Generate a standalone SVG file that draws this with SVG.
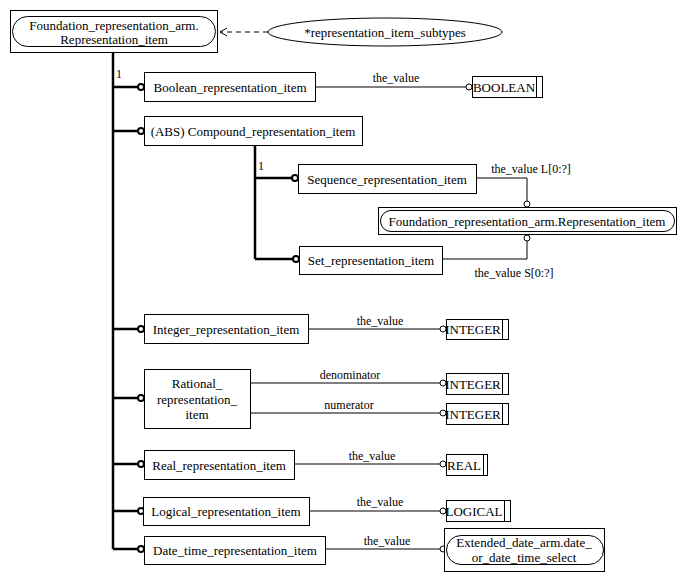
<svg xmlns="http://www.w3.org/2000/svg" width="686" height="581" viewBox="0 0 686 581">
<style>
text{font-family:"Liberation Serif","Times New Roman",serif;fill:#000}
.n{font-size:13px;text-anchor:middle;dominant-baseline:central}
.l{font-size:12px;text-anchor:middle;dominant-baseline:central}
.box{fill:#fff;stroke:#000;stroke-width:1}
.thin{fill:none;stroke:#000;stroke-width:1}
.thick{fill:none;stroke:#000;stroke-width:2.5}
.oc{fill:#fff;stroke:#000;stroke-width:1}
.tc{fill:#fff;stroke:#000;stroke-width:2}
</style>
<rect width="686" height="581" fill="#fff"/>
<g id="connectors">
  <line class="thin" x1="268" y1="32" x2="220" y2="32" stroke-dasharray="5,4"/>
  <polyline class="thin" points="227,28 220,32 227,36"/>
  <line class="thick" x1="113" y1="52" x2="113" y2="549"/>
  <line class="thick" x1="113" y1="87" x2="139" y2="87"/>
  <line class="thick" x1="113" y1="131" x2="139" y2="131"/>
  <line class="thick" x1="113" y1="329" x2="139" y2="329"/>
  <line class="thick" x1="113" y1="398" x2="139" y2="398"/>
  <line class="thick" x1="113" y1="464" x2="139" y2="464"/>
  <line class="thick" x1="113" y1="511" x2="139" y2="511"/>
  <line class="thick" x1="113" y1="549" x2="139" y2="549"/>
  <circle class="tc" cx="141" cy="87" r="3"/>
  <circle class="tc" cx="141" cy="131" r="3"/>
  <circle class="tc" cx="141" cy="329" r="3"/>
  <circle class="tc" cx="141" cy="398" r="3"/>
  <circle class="tc" cx="141" cy="464" r="3"/>
  <circle class="tc" cx="141" cy="511" r="3"/>
  <circle class="tc" cx="141" cy="549" r="3"/>
  <text x="119" y="74" class="l">1</text>
  <line class="thick" x1="255" y1="146" x2="255" y2="259"/>
  <line class="thick" x1="255" y1="178" x2="293" y2="178"/>
  <line class="thick" x1="255" y1="259" x2="294" y2="259"/>
  <circle class="tc" cx="295" cy="178" r="3"/>
  <circle class="tc" cx="296" cy="259" r="3"/>
  <text x="261" y="166" class="l">1</text>
  <line class="thin" x1="316" y1="87" x2="466" y2="87"/>
  <circle class="oc" cx="469" cy="87" r="3"/>
  <text x="396" y="78" class="l">the_value</text>
  <polyline class="thin" points="477,178 527,178 527,201"/>
  <circle class="oc" cx="527" cy="204" r="3"/>
  <text x="531" y="169" class="l">the_value L[0:?]</text>
  <polyline class="thin" points="443,259 527,259 527,241"/>
  <circle class="oc" cx="527" cy="238" r="3"/>
  <text x="514" y="273" class="l">the_value S[0:?]</text>
  <line class="thin" x1="309" y1="329" x2="440" y2="329"/>
  <circle class="oc" cx="443" cy="329" r="3"/>
  <text x="380" y="321" class="l">the_value</text>
  <line class="thin" x1="251" y1="383" x2="440" y2="383"/>
  <circle class="oc" cx="443" cy="383" r="3"/>
  <text x="350" y="375" class="l">denominator</text>
  <line class="thin" x1="251" y1="413" x2="440" y2="413"/>
  <circle class="oc" cx="443" cy="413" r="3"/>
  <text x="349" y="405" class="l">numerator</text>
  <line class="thin" x1="294" y1="464" x2="440" y2="464"/>
  <circle class="oc" cx="443" cy="464" r="3"/>
  <text x="372" y="456" class="l">the_value</text>
  <line class="thin" x1="309" y1="511" x2="440" y2="511"/>
  <circle class="oc" cx="443" cy="511" r="3"/>
  <text x="380" y="502" class="l">the_value</text>
  <line class="thin" x1="325" y1="549" x2="440" y2="549"/>
  <circle class="oc" cx="443" cy="549" r="3"/>
  <text x="387" y="541" class="l">the_value</text>
</g>
<g id="top">
  <rect class="box" x="10.5" y="10.5" width="207" height="42"/>
  <rect class="box" x="12.5" y="16.5" width="203" height="30" rx="15" ry="15"/>
  <text x="114" y="25" class="n">Foundation_representation_arm.</text>
  <text x="114" y="39" class="n">Representation_item</text>
</g>
<g id="subtypes">
  <ellipse class="box" cx="385" cy="32" rx="117" ry="14"/>
  <text x="385" y="32" class="n">*representation_item_subtypes</text>
</g>
<g id="boolean_item">
  <rect class="box" x="144.5" y="72.5" width="171" height="29"/>
  <text x="230" y="87" class="n">Boolean_representation_item</text>
</g>
<g id="boolean">
  <rect class="box" x="472.5" y="76.5" width="70" height="21"/>
  <line class="thin" x1="536.5" y1="76.5" x2="536.5" y2="97.5"/>
  <text x="504" y="87" class="n">BOOLEAN</text>
</g>
<g id="compound">
  <rect class="box" x="144.5" y="116.5" width="218" height="29"/>
  <text x="253" y="131" class="n">(ABS) Compound_representation_item</text>
</g>
<g id="sequence">
  <rect class="box" x="298.5" y="164.5" width="178" height="29"/>
  <text x="387" y="179" class="n">Sequence_representation_item</text>
</g>
<g id="foundation_ref">
  <rect class="box" x="378.5" y="207.5" width="298" height="27"/>
  <rect class="box" x="380.5" y="210.5" width="294" height="21" rx="10.5" ry="10.5"/>
  <text x="527" y="221" class="n">Foundation_representation_arm.Representation_item</text>
</g>
<g id="set">
  <rect class="box" x="299.5" y="246.5" width="143" height="28"/>
  <text x="371" y="260" class="n">Set_representation_item</text>
</g>
<g id="integer_item">
  <rect class="box" x="144.5" y="314.5" width="164" height="29"/>
  <text x="226" y="329" class="n">Integer_representation_item</text>
</g>
<g id="integer1">
  <rect class="box" x="446.5" y="319.5" width="62" height="20"/>
  <line class="thin" x1="502.5" y1="319.5" x2="502.5" y2="339.5"/>
  <text x="473" y="329" class="n">INTEGER</text>
</g>
<g id="rational">
  <rect class="box" x="144.5" y="369.5" width="106" height="59"/>
  <text x="197" y="383" class="n">Rational_</text>
  <text x="197" y="399" class="n">representation_</text>
  <text x="197" y="414" class="n">item</text>
</g>
<g id="integer2">
  <rect class="box" x="446.5" y="373.5" width="62" height="21"/>
  <line class="thin" x1="502.5" y1="373.5" x2="502.5" y2="394.5"/>
  <text x="473" y="384" class="n">INTEGER</text>
</g>
<g id="integer3">
  <rect class="box" x="446.5" y="403.5" width="62" height="21"/>
  <line class="thin" x1="502.5" y1="403.5" x2="502.5" y2="424.5"/>
  <text x="473" y="414" class="n">INTEGER</text>
</g>
<g id="real_item">
  <rect class="box" x="144.5" y="450.5" width="150" height="29"/>
  <text x="219" y="465" class="n">Real_representation_item</text>
</g>
<g id="real">
  <rect class="box" x="446.5" y="454.5" width="41" height="21"/>
  <line class="thin" x1="483.5" y1="454.5" x2="483.5" y2="475.5"/>
  <text x="464" y="465" class="n">REAL</text>
</g>
<g id="logical_item">
  <rect class="box" x="143.5" y="497.5" width="166" height="28"/>
  <text x="226" y="511" class="n">Logical_representation_item</text>
</g>
<g id="logical">
  <rect class="box" x="446.5" y="500.5" width="64" height="21"/>
  <line class="thin" x1="504.5" y1="500.5" x2="504.5" y2="521.5"/>
  <text x="474" y="511" class="n">LOGICAL</text>
</g>
<g id="date_time_item">
  <rect class="box" x="144.5" y="536.5" width="181" height="28"/>
  <text x="235" y="550" class="n">Date_time_representation_item</text>
</g>
<g id="extended_date">
  <rect class="box" x="444.5" y="528.5" width="160" height="43"/>
  <rect class="box" x="446.5" y="535.5" width="157" height="29" rx="14.5" ry="14.5"/>
  <text x="524" y="542" class="n">Extended_date_arm.date_</text>
  <text x="524" y="557" class="n">or_date_time_select</text>
</g>
</svg>
